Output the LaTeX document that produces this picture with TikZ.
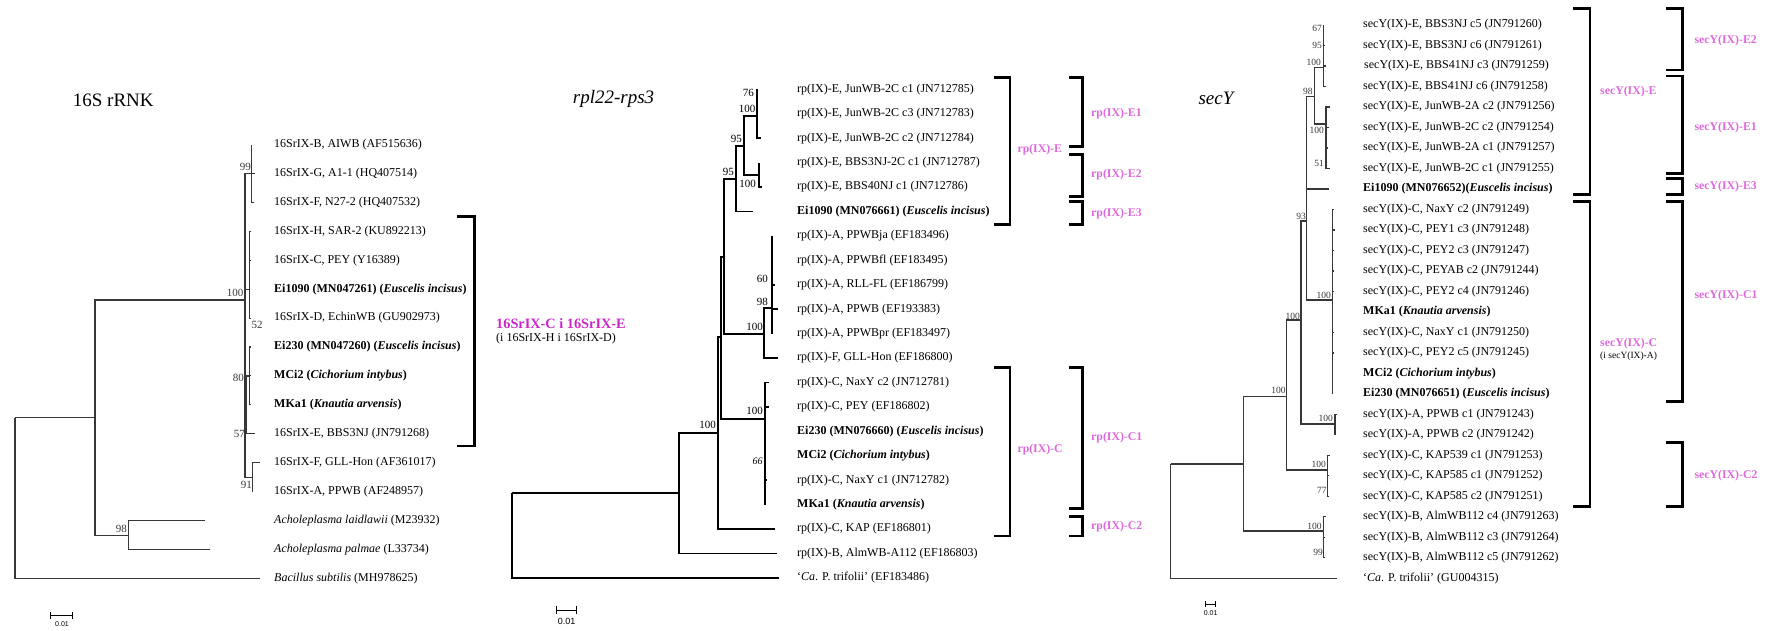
\documentclass[tikz,border=0pt]{standalone}
\usepackage{fontspec}
\setmainfont{Liberation Serif}
\setsansfont{Liberation Sans}
\definecolor{magA}{RGB}{200,40,200}
\definecolor{magB}{RGB}{222,105,222}
\definecolor{tgray}{RGB}{55,55,55}
\newcommand\mybrk[4]{\draw[brk] (#4,#2) -- (#1,#2) -- (#1,#3) -- (#4,#3);}
\tikzset{
 t16/.style={line width=1.1pt, draw=tgray},
 trp/.style={line width=1.8pt, draw=black},
 tsy/.style={line width=1.4pt, draw=tgray},
 brk/.style={line width=2.8pt, line join=miter},
 l16/.style={anchor=west, inner sep=0pt, font=\fontsize{12}{14}\selectfont},
 lf/.style={anchor=west, inner sep=0pt, font=\fontsize{12}{14}\selectfont},
 b16/.style={anchor=east, inner sep=0pt, font=\fontsize{11}{12}\selectfont, text=tgray},
 brp/.style={anchor=east, inner sep=0pt, font=\fontsize{11}{12}\selectfont},
 bsy/.style={anchor=east, inner sep=0pt, font=\fontsize{9.5}{10}\selectfont, text=tgray},
 ttl/.style={anchor=west, inner sep=0pt, font=\fontsize{19}{22}\selectfont},
 grp/.style={anchor=west, inner sep=0pt, font={\bfseries\fontsize{11.8}{13}\selectfont}, text=magB},
 sbar/.style={line width=1pt},
 stxt/.style={inner sep=0pt, font=\sffamily\fontsize{7}{8}\selectfont},
}
\begin{document}
\begin{tikzpicture}[x=1pt,y=-1pt]
\useasboundingbox (0,0) rectangle (1769,630);

% ================= 16S rRNK =================
\node[ttl] (t16) at (72.7,100) {16S rRNK};
\foreach \i/\x in {0/251.4,1/254.5,2/254,3/251.4,4/251.4,5/249.3,6/251.4,7/251.4,8/251.4,9/251.4,10/254.9,11/259.5,12/252.6,13/204.7,14/209.7,15/260.2}
  \coordinate (a\i) at (\x,{144.5+28.93*\i});
\coordinate (sR) at (15,417.7);
\coordinate (sIn) at (95,417.7);
\coordinate (sAch) at (128.2,535.7);
\coordinate (s100) at (245,300);
\coordinate (s99) at (251.4,173.4);
\coordinate (sCg) at (249.3,289.2);
\coordinate (s57) at (246.8,420);
\coordinate (s80) at (249.3,376);
\coordinate (s91) at (252.6,477.7);
\foreach \p/\c in {sR/sIn,sR/a15,sIn/sAch,sIn/s100,sAch/a13,sAch/a14,s100/s99,s100/sCg,s100/s57,s100/s91,s99/a0,s99/a1,s99/a2,sCg/a3,sCg/a4,sCg/a5,sCg/a6,s57/s80,s57/a10,s80/a7,s80/a8,s80/a9,s91/a11,s91/a12}
  \draw[t16] (\p) |- (\c);
\node[l16] (la0) at (274,144.5) {16SrIX-B, AIWB (AF515636)};
\node[l16] (la1) at (274,173.4) {16SrIX-G, A1-1 (HQ407514)};
\node[l16] (la2) at (274,202.4) {16SrIX-F, N27-2 (HQ407532)};
\node[l16] (la3) at (274,231.3) {16SrIX-H, SAR-2 (KU892213)};
\node[l16] (la4) at (274,260.2) {16SrIX-C, PEY (Y16389)};
\node[l16] (la5) at (274,289.2) {\textbf{Ei1090 (MN047261) (\textit{Euscelis incisus})}};
\node[l16] (la6) at (274,318.1) {16SrIX-D, EchinWB (GU902973)};
\node[l16] (la7) at (274,347.0) {\textbf{Ei230 (MN047260) (\textit{Euscelis incisus})}};
\node[l16] (la8) at (274,375.9) {\textbf{MCi2 (\textit{Cichorium intybus})}};
\node[l16] (la9) at (274,404.9) {\textbf{MKa1 (\textit{Knautia arvensis})}};
\node[l16] (la10) at (274,433.8) {16SrIX-E, BBS3NJ (JN791268)};
\node[l16] (la11) at (274,462.7) {16SrIX-F, GLL-Hon (AF361017)};
\node[l16] (la12) at (274,491.7) {16SrIX-A, PPWB (AF248957)};
\node[l16] (la13) at (274,520.6) {\textit{Acholeplasma laidlawii} (M23932)};
\node[l16] (la14) at (274,549.5) {\textit{Acholeplasma palmae} (L33734)};
\node[l16] (la15) at (274,578.5) {\textit{Bacillus subtilis} (MH978625)};
\node[b16] (ba1) at (251,166.7) {99};
\node[b16] (ba2) at (243.5,293) {100};
\node[b16, anchor=west] (ba3) at (251.5,325) {52};
\node[b16] (ba4) at (244,378) {80};
\node[b16] (ba5) at (245,434) {57};
\node[b16] (ba6) at (252,485) {91};
\node[b16] (ba7) at (127,529) {98};
\mybrk{474.5}{216.7}{446}{457.3}
\node[anchor=west, inner sep=0pt, font={\bfseries\fontsize{14.3}{16}\selectfont}, text=magA] (g16) at (496,323.3) {16SrIX-C i 16SrIX-E};
\node[anchor=west, inner sep=0pt, font=\fontsize{12}{13}\selectfont] (g16b) at (496,339) {(i 16SrIX-H i 16SrIX-D)};
\coordinate (sb1a) at (50.9,615); \coordinate (sb1b) at (72.7,615);
\draw[sbar] (sb1a) -- (sb1b);
\draw[sbar] ([yshift=-3.5pt]sb1a) -- ([yshift=3.5pt]sb1a);
\draw[sbar] ([yshift=-3.5pt]sb1b) -- ([yshift=3.5pt]sb1b);
\node[stxt] (sbt1) at (62,624) {0.01};

% ================= rpl22-rps3 =================
\node[ttl] (trp) at (572.7,99.3) {\textit{rpl22-rps3}};
\foreach \i/\x in {0/756.7,1/756.7,2/761,3/759.3,4/762.3,5/753.3,6/772.3,7/772.3,8/775,9/778.3,10/772.3,11/778.3,12/769.3,13/769,14/765.3,15/765.3,16/767,17/765.3,18/775,19/776.7,20/779.3}
  \coordinate (b\i) at (\x,{89.3+24.43*\i});
\coordinate (pR) at (511.7,493.3);
\coordinate (pIn) at (679.3,493.3);
\coordinate (pN1) at (718,433.3);
\coordinate (pN2) at (721.3,336.7);
\coordinate (pN3) at (724,256.7);
\coordinate (pE) at (735.7,179);
\coordinate (pF) at (744.3,146);
\coordinate (pJ) at (756.7,115.7);
\coordinate (pB) at (759.3,175);
\coordinate (pA) at (764,334);
\coordinate (p98) at (772.3,308.3);
\coordinate (pC) at (765.3,419);
\foreach \p/\c in {pR/pIn,pR/b20,pIn/pN1,pIn/b19,pN1/pN2,pN1/b18,pN2/pN3,pN2/pC,pN3/pE,pN3/pA,pE/pF,pE/b5,pF/pJ,pF/pB,pJ/b0,pJ/b1,pJ/b2,pB/b3,pB/b4,pA/p98,pA/b11,p98/b6,p98/b7,p98/b8,p98/b9,p98/b10,pC/b12,pC/b13,pC/b14,pC/b15,pC/b16,pC/b17}
  \draw[trp] (\p) |- (\c);
\node[lf] (lb0) at (797,89.3) {rp(IX)-E, JunWB-2C c1 (JN712785)};
\node[lf] (lb1) at (797,113.7) {rp(IX)-E, JunWB-2C c3 (JN712783)};
\node[lf] (lb2) at (797,138.2) {rp(IX)-E, JunWB-2C c2 (JN712784)};
\node[lf] (lb3) at (797,162.6) {rp(IX)-E, BBS3NJ-2C c1 (JN712787)};
\node[lf] (lb4) at (797,187.0) {rp(IX)-E, BBS40NJ c1 (JN712786)};
\node[lf] (lb5) at (797,211.5) {\textbf{Ei1090 (MN076661) (\textit{Euscelis incisus})}};
\node[lf] (lb6) at (797,235.9) {rp(IX)-A, PPWBja (EF183496)};
\node[lf] (lb7) at (797,260.3) {rp(IX)-A, PPWBfl (EF183495)};
\node[lf] (lb8) at (797,284.7) {rp(IX)-A, RLL-FL (EF186799)};
\node[lf] (lb9) at (797,309.2) {rp(IX)-A, PPWB (EF193383)};
\node[lf] (lb10) at (797,333.6) {rp(IX)-A, PPWBpr (EF183497)};
\node[lf] (lb11) at (797,358.0) {rp(IX)-F, GLL-Hon (EF186800)};
\node[lf] (lb12) at (797,382.5) {rp(IX)-C, NaxY c2 (JN712781)};
\node[lf] (lb13) at (797,406.9) {rp(IX)-C, PEY (EF186802)};
\node[lf] (lb14) at (797,431.3) {\textbf{Ei230 (MN076660) (\textit{Euscelis incisus})}};
\node[lf] (lb15) at (797,455.8) {\textbf{MCi2 (\textit{Cichorium intybus})}};
\node[lf] (lb16) at (797,480.2) {rp(IX)-C, NaxY c1 (JN712782)};
\node[lf] (lb17) at (797,504.6) {\textbf{MKa1 (\textit{Knautia arvensis})}};
\node[lf] (lb18) at (797,529.0) {rp(IX)-C, KAP (EF186801)};
\node[lf] (lb19) at (797,553.5) {rp(IX)-B, AlmWB-A112 (EF186803)};
\node[lf] (lb20) at (797,577.9) {`\textit{Ca}. P. trifolii' (EF183486)};
\node[brp] (bb1) at (754,93.3) {76};
\node[brp] (bb2) at (755.5,109.3) {100};
\node[brp] (bb3) at (742,139) {95};
\node[brp] (bb4) at (734,171.7) {95};
\node[brp] (bb5) at (756,184) {100};
\node[brp] (bb6) at (768,279.3) {60};
\node[brp] (bb7) at (768,301.7) {98};
\node[brp] (bb8) at (763,326.7) {100};
\node[brp] (bb9) at (763,411) {100};
\node[brp, font=\fontsize{10}{11}\selectfont\itshape] (bb10) at (762.7,461.7) {66};
\node[brp] (bb11) at (716,425) {100};
\mybrk{1010}{77.7}{224.3}{994}
\mybrk{1082.7}{77.7}{146.7}{1069}
\mybrk{1082.7}{154.3}{196.7}{1069}
\mybrk{1082.7}{201.7}{224.3}{1069}
\mybrk{1010}{367.3}{536}{994}
\mybrk{1082.7}{367.3}{508.7}{1069}
\mybrk{1082.7}{516.7}{536}{1069}
\node[grp] (gE) at (1017.3,149.3) {rp(IX)-E};
\node[grp] (gE1) at (1091,113.3) {rp(IX)-E1};
\node[grp] (gE2) at (1091,174.7) {rp(IX)-E2};
\node[grp] (gE3) at (1091,214) {rp(IX)-E3};
\node[grp] (gC) at (1017.3,449.3) {rp(IX)-C};
\node[grp] (gC1) at (1091,438) {rp(IX)-C1};
\node[grp] (gC2) at (1091,526.7) {rp(IX)-C2};
\coordinate (sb2a) at (556.7,610); \coordinate (sb2b) at (576.7,610);
\draw[sbar] (sb2a) -- (sb2b);
\draw[sbar] ([yshift=-3.7pt]sb2a) -- ([yshift=3.7pt]sb2a);
\draw[sbar] ([yshift=-3.7pt]sb2b) -- ([yshift=3.7pt]sb2b);
\node[stxt, font=\sffamily\fontsize{9}{10}\selectfont] (sbt2) at (566.7,621) {0.01};

% ================= secY =================
\node[ttl] (tsy) at (1198.3,98.3) {\textit{secY}};
\foreach \i/\x in {0/1323.3,1/1325,2/1326,3/1326,4/1330,5/1329.3,6/1328,7/1330,8/1329.3,9/1334,10/1335,11/1333.5,12/1333.5,13/1333.5,14/1332.7,15/1333.5,16/1333.5,17/1332.7,18/1332.7,19/1336.7,20/1335,21/1330,22/1328.7,23/1328.7,24/1326,25/1325,26/1325,27/1337.3}
  \coordinate (c\i) at (\x,{25+20.49*\i});
\coordinate (yR) at (1170.7,464);
\coordinate (yIn) at (1243.3,464);
\coordinate (yB) at (1323.3,531);
\coordinate (yN1) at (1286.7,396.7);
\coordinate (yK) at (1327.3,470);
\coordinate (yN2) at (1301,320);
\coordinate (yP) at (1335,424);
\coordinate (y93) at (1306.7,221);
\coordinate (yS) at (1314.3,96.7);
\coordinate (yBB) at (1323.3,67.7);
\coordinate (yJ) at (1326,124);
\coordinate (yC) at (1332.7,300);
\foreach \p/\c in {yR/yIn,yR/c27,yIn/yN1,yIn/yB,yB/c24,yB/c25,yB/c26,yN1/yN2,yN1/yK,yK/c21,yK/c22,yK/c23,yN2/y93,yN2/yP,yP/c19,yP/c20,y93/yS,y93/c8,y93/yC,yS/yBB,yS/yJ,yBB/c0,yBB/c1,yBB/c2,yBB/c3,yJ/c4,yJ/c5,yJ/c6,yJ/c7,yC/c9,yC/c10,yC/c11,yC/c12,yC/c13,yC/c14,yC/c15,yC/c16,yC/c17,yC/c18}
  \draw[tsy] (\p) |- (\c);
\node[lf] (lc0) at (1363,25.0) {secY(IX)-E, BBS3NJ c5 (JN791260)};
\node[lf] (lc1) at (1363,45.5) {secY(IX)-E, BBS3NJ c6 (JN791261)};
\node[lf] (lc2) at (1364,66.0) {secY(IX)-E, BBS41NJ c3 (JN791259)};
\node[lf] (lc3) at (1363,86.5) {secY(IX)-E, BBS41NJ c6 (JN791258)};
\node[lf] (lc4) at (1363,107.0) {secY(IX)-E, JunWB-2A c2 (JN791256)};
\node[lf] (lc5) at (1363,127.5) {secY(IX)-E, JunWB-2C c2 (JN791254)};
\node[lf] (lc6) at (1363,147.9) {secY(IX)-E, JunWB-2A c1 (JN791257)};
\node[lf] (lc7) at (1363,168.4) {secY(IX)-E, JunWB-2C c1 (JN791255)};
\node[lf] (lc8) at (1363,188.9) {\textbf{Ei1090 (MN076652)(\textit{Euscelis incisus})}};
\node[lf] (lc9) at (1363,209.4) {secY(IX)-C, NaxY c2 (JN791249)};
\node[lf] (lc10) at (1363,229.9) {secY(IX)-C, PEY1 c3 (JN791248)};
\node[lf] (lc11) at (1363,250.4) {secY(IX)-C, PEY2 c3 (JN791247)};
\node[lf] (lc12) at (1363,270.9) {secY(IX)-C, PEYAB c2 (JN791244)};
\node[lf] (lc13) at (1363,291.4) {secY(IX)-C, PEY2 c4 (JN791246)};
\node[lf] (lc14) at (1363,311.9) {\textbf{MKa1 (\textit{Knautia arvensis})}};
\node[lf] (lc15) at (1363,332.4) {secY(IX)-C, NaxY c1 (JN791250)};
\node[lf] (lc16) at (1363,352.8) {secY(IX)-C, PEY2 c5 (JN791245)};
\node[lf] (lc17) at (1363,373.3) {\textbf{MCi2 (\textit{Cichorium intybus})}};
\node[lf] (lc18) at (1363,393.8) {\textbf{Ei230 (MN076651) (\textit{Euscelis incisus})}};
\node[lf] (lc19) at (1363,414.3) {secY(IX)-A, PPWB c1 (JN791243)};
\node[lf] (lc20) at (1363,434.8) {secY(IX)-A, PPWB c2 (JN791242)};
\node[lf] (lc21) at (1363,455.3) {secY(IX)-C, KAP539 c1 (JN791253)};
\node[lf] (lc22) at (1363,475.8) {secY(IX)-C, KAP585 c1 (JN791252)};
\node[lf] (lc23) at (1363,496.3) {secY(IX)-C, KAP585 c2 (JN791251)};
\node[lf] (lc24) at (1363,516.8) {secY(IX)-B, AlmWB112 c4 (JN791263)};
\node[lf] (lc25) at (1363,537.3) {secY(IX)-B, AlmWB112 c3 (JN791264)};
\node[lf] (lc26) at (1363,557.7) {secY(IX)-B, AlmWB112 c5 (JN791262)};
\node[lf] (lc27) at (1363,578.2) {`\textit{Ca}. P. trifolii' (GU004315)};
\node[bsy] (bc1) at (1322,28.3) {67};
\node[bsy] (bc2) at (1322,45) {95};
\node[bsy] (bc3) at (1321,62.7) {100};
\node[bsy] (bc4) at (1312.7,91.7) {98};
\node[bsy] (bc5) at (1324,130) {100};
\node[bsy] (bc6) at (1324,163.3) {51};
\node[bsy] (bc7) at (1306,216.7) {93};
\node[bsy] (bc8) at (1331,295) {100};
\node[bsy] (bc9) at (1300,316) {100};
\node[bsy] (bc10) at (1285.7,390.7) {100};
\node[bsy] (bc11) at (1333,418.3) {100};
\node[bsy] (bc12) at (1326,464.3) {100};
\node[bsy] (bc13) at (1326.7,490.7) {77};
\node[bsy] (bc14) at (1321.7,526.7) {100};
\node[bsy] (bc15) at (1323,552.7) {99};
\mybrk{1590}{8.3}{194.3}{1573}
\mybrk{1590}{201.7}{506.7}{1573}
\mybrk{1682.7}{8.3}{70}{1666}
\mybrk{1682.7}{76}{173.3}{1666}
\mybrk{1682.7}{178.3}{194.3}{1666}
\mybrk{1682.7}{201.7}{401.7}{1666}
\mybrk{1682.7}{442.7}{506.7}{1666}
\node[grp] (hE) at (1600,91.7) {secY(IX)-E};
\node[grp] (hC) at (1600,343.3) {secY(IX)-C};
\node[anchor=west, inner sep=0pt, font=\fontsize{9.5}{10}\selectfont] (hCb) at (1600,356.5) {(i secY(IX)-A)};
\node[grp] (hE2) at (1694.3,40.7) {secY(IX)-E2};
\node[grp] (hE1) at (1694.3,127.3) {secY(IX)-E1};
\node[grp] (hE3) at (1694.3,186.7) {secY(IX)-E3};
\node[grp] (hC1) at (1694.3,296) {secY(IX)-C1};
\node[grp] (hC2) at (1694.3,476) {secY(IX)-C2};
\coordinate (sb3a) at (1205.7,604); \coordinate (sb3b) at (1215.7,604);
\draw[sbar] (sb3a) -- (sb3b);
\draw[sbar] ([yshift=-3pt]sb3a) -- ([yshift=3pt]sb3a);
\draw[sbar] ([yshift=-3pt]sb3b) -- ([yshift=3pt]sb3b);
\node[stxt] (sbt3) at (1210.7,613) {0.01};
\end{tikzpicture}
\end{document}
